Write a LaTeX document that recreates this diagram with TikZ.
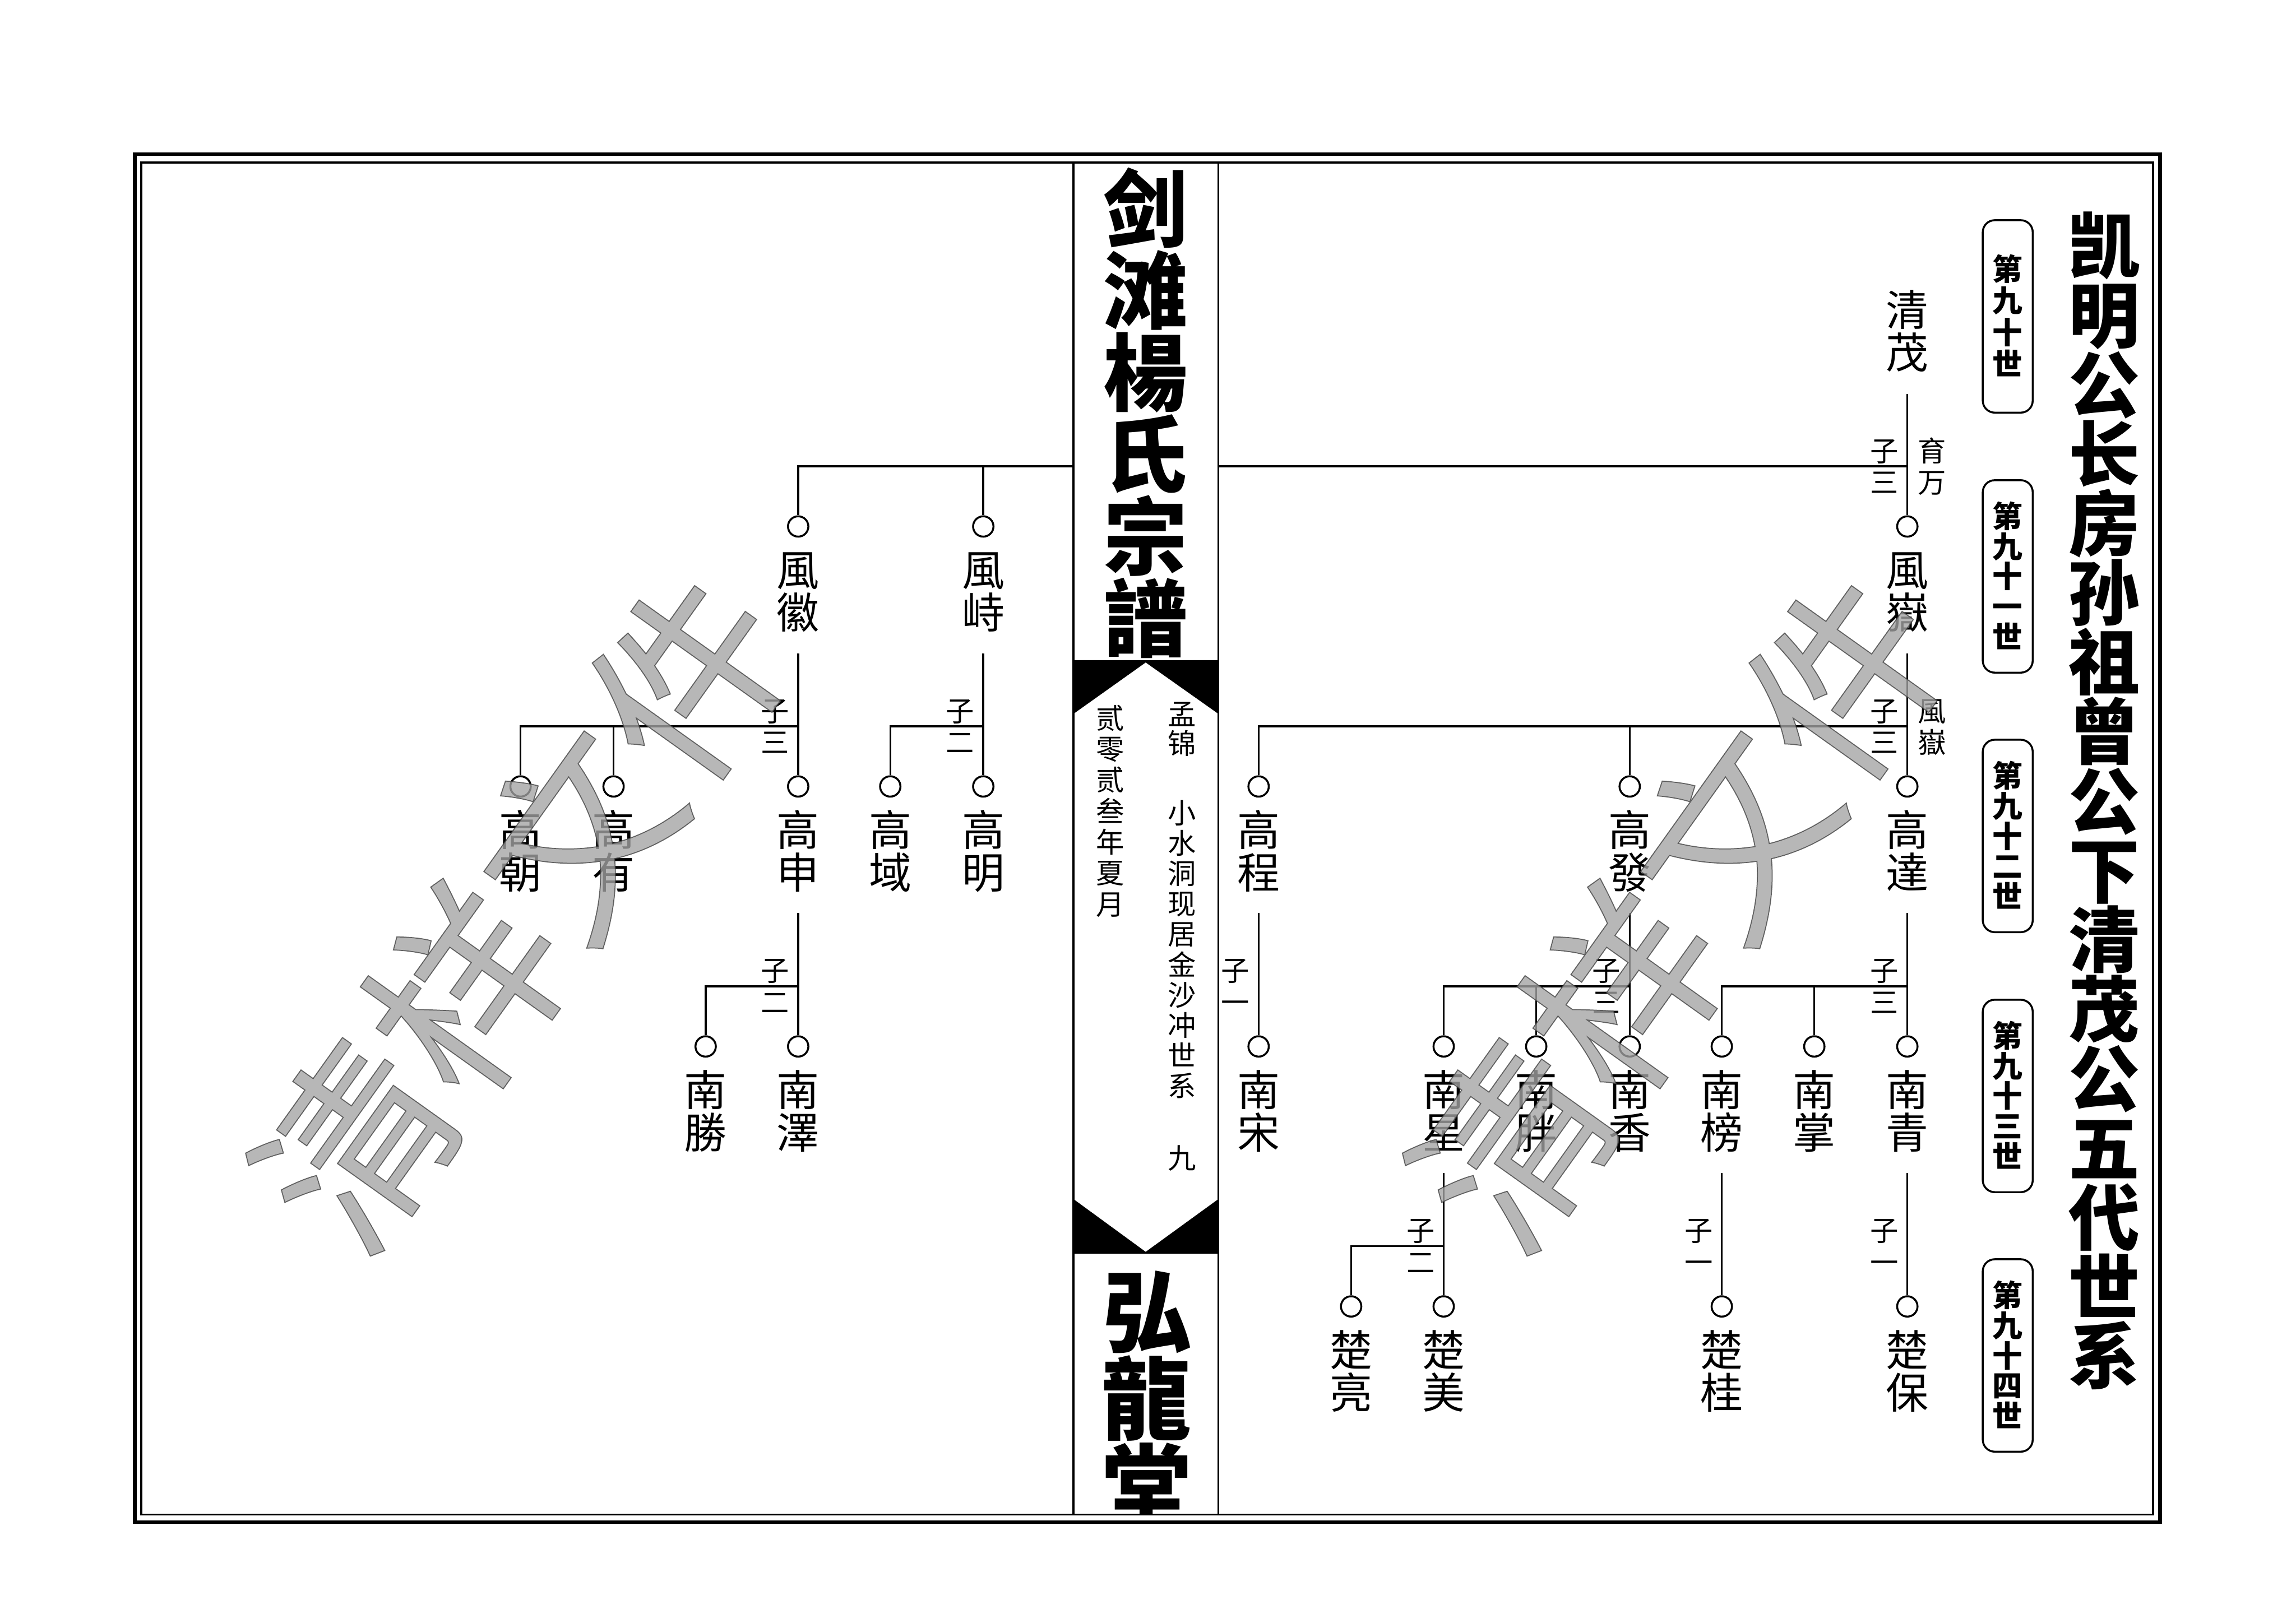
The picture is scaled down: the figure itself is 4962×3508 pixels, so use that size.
\documentclass[tikz,border=0pt]{standalone}
\usepackage{fontspec}
\setmainfont{Noto Sans CJK SC}
\makeatletter
\newdimen\vtp
\newcommand\vt[2]{\vtp=#1\relax\vbox{\offinterlineskip\@tfor\vt@c:=#2\do{\hbox{\rule[\dimexpr0.38em-0.5\vtp\relax]{0pt}{\vtp}\vt@c}}}}
\makeatother
\newcommand\wmon{\special{pdf:literal direct 0.25 0.25 0.25 RG 0.6 w 2 Tr}}
\newcommand\wmoff{\special{pdf:literal direct 0 Tr}}
\definecolor{wmgray}{gray}{0.64}
\tikzset{
  tl/.style={line width=0.4mm},
  pc/.style={circle, draw, line width=0.42mm, minimum size=4.4mm, inner sep=0pt, fill=white},
  nm/.style={inner sep=0pt, font=\fontsize{9.2mm}{9.2mm}\selectfont},
  lb/.style={inner sep=0pt, font=\fontsize{6.1mm}{6.1mm}\selectfont},
  bs/.style={inner sep=0pt, font=\fontsize{6.1mm}{6.1mm}\selectfont},
  bt/.style={inner sep=0pt, font=\bfseries\fontsize{18.2mm}{18.2mm}\selectfont},
  bt2/.style={inner sep=0pt, font=\bfseries\fontsize{19.4mm}{19.4mm}\selectfont},
  rt/.style={inner sep=0pt, font=\bfseries\fontsize{15.4mm}{15.4mm}\selectfont},
  gbox/.style={draw, line width=0.42mm, rounded corners=2.6mm, minimum width=10.8mm, minimum height=41.6mm, inner sep=0pt, font=\bfseries\fontsize{6.5mm}{6.5mm}\selectfont},
  wm/.style={inner sep=0pt, rotate=54.5, text=wmgray, opacity=0.78, font=\fontsize{41.3mm}{41.3mm}\selectfont},
}
\newcommand\person[4]{\node[pc] (#1c) at (#2,#3+130) {}; \node[nm] (#1) at (#2,#3+270) {\vt{9.2mm}{#4}};}
\newcommand\lab[4]{\node[lb] (#1) at (#2,#3) {\vt{6.8mm}{#4}};}
\begin{document}
\begin{tikzpicture}[x=0.1mm, y=-0.1mm]
\fill[white] (0,0) rectangle (4962,3508);
\path[use as bounding box] (0,0) rectangle (4962,3508);
% frames
\draw[line width=0.8mm] (291,333) rectangle (4668,3290);
\draw[line width=0.45mm] (305,351) rectangle (4653,3274);
% central band
\coordinate (bL) at (2320,0);
\coordinate (bR) at (2633,0);
\draw[line width=0.4mm] (2320,351) -- (2320,3274);
\draw[line width=0.4mm] (2633,351) -- (2633,3274);
\fill (2320,1427) -- (2633,1427) -- (2633,1543) -- (2476,1432) -- (2320,1543) -- cycle;
\fill (2320,2592) -- (2476,2706) -- (2633,2592) -- (2633,2710) -- (2320,2710) -- cycle;
\node[bt] (btitle) at (2476,894) {\vt{17.7mm}{剑滩楊氏宗譜}};
\node[bs] (mj) at (2554,1575) {\vt{6.3mm}{孟锦}};
\node[bs] (xs) at (2554,2052) {\vt{6.55mm}{小水洞现居金沙冲世系}};
\node[bs] (jiu) at (2554,2503) {\vt{6.5mm}{九}};
\node[bs] (date) at (2400,1753) {\vt{6.7mm}{贰零贰叁年夏月}};
\begin{scope}
\clip (2322,2712) rectangle (2631,3272);
\node[bt2] (hlt) at (2478,3023) {\vt{18.8mm}{弘龍堂}};
\end{scope}
% right title and generation boxes
\node[rt] (title) at (4548,1731) {\vt{15mm}{凯明公长房孙祖曾公下清茂公五代世系}};
\node[gbox] (b90) at (4339,684) {\vt{6.8mm}{第九十世}};
\node[gbox] (b91) at (4339,1246) {\vt{6.5mm}{第九十一世}};
\node[gbox] (b92) at (4339,1807) {\vt{6.5mm}{第九十二世}};
\node[gbox] (b93) at (4339,2369) {\vt{6.5mm}{第九十三世}};
\node[gbox] (b94) at (4339,2930) {\vt{6.5mm}{第九十四世}};
% G91
\node[nm] (qm) at (4122,716) {\vt{9.2mm}{清茂}};
\coordinate (J1) at (4122,1008);
\person{fy}{4122}{1008}{風嶽}
\person{fh}{1725}{1008}{風徽}
\person{fs}{2125}{1008}{風峙}
\draw[tl] ([yshift=-13.6mm]qm.center) -- (fyc.north);
\draw[tl] (J1) -- (J1 -| bR);
\draw[tl] (J1 -| bL) -| (fhc.north);
\draw[tl] (fsc.north) -- (fsc.north |- J1);
\lab{l1}{4072}{1008}{子三}
\lab{l1b}{4175}{1008}{育万}
% G92 right
\coordinate (J2) at (4122,1570);
\person{gc}{2720}{1570}{高程}
\person{gf}{3522}{1570}{高發}
\person{gd}{4122}{1570}{高達}
\draw[tl] ([yshift=-27.4mm]fyc.center) -- (gdc.north);
\draw[tl] (J2) -| (gcc.north);
\draw[tl] (gfc.north) -- (gfc.north |- J2);
\lab{l2}{4072}{1570}{子三}
\lab{l2b}{4175}{1570}{風嶽}
% G92 left
\coordinate (J3) at (1725,1570);
\person{gz}{1125}{1570}{高朝}
\person{gy}{1326}{1570}{高有}
\person{gs}{1725}{1570}{高申}
\draw[tl] ([yshift=-27.4mm]fhc.center) -- (gsc.north);
\draw[tl] (J3) -| (gzc.north);
\draw[tl] (gyc.north) -- (gyc.north |- J3);
\lab{l3}{1675}{1570}{子三}
\coordinate (J4) at (2125,1570);
\person{gyu}{1924}{1570}{高域}
\person{gm}{2125}{1570}{高明}
\draw[tl] ([yshift=-27.4mm]fsc.center) -- (gmc.north);
\draw[tl] (J4) -| (gyuc.north);
\lab{l4}{2075}{1570}{子二}
% G93
\person{ns}{2720}{2132}{南宋}
\draw[tl] ([yshift=-27.4mm]gcc.center) -- (nsc.north);
\lab{l5}{2670}{2132}{子一}
\coordinate (J6) at (3522,2132);
\person{nx}{3120}{2132}{南星}
\person{np}{3320}{2132}{南胖}
\person{nxi}{3522}{2132}{南香}
\draw[tl] ([yshift=-27.4mm]gfc.center) -- (nxic.north);
\draw[tl] (J6) -| (nxc.north);
\draw[tl] (npc.north) -- (npc.north |- J6);
\lab{l6}{3472}{2132}{子三}
\coordinate (J7) at (4122,2132);
\person{nb}{3721}{2132}{南榜}
\person{nz}{3921}{2132}{南掌}
\person{nq}{4122}{2132}{南青}
\draw[tl] ([yshift=-27.4mm]gdc.center) -- (nqc.north);
\draw[tl] (J7) -| (nbc.north);
\draw[tl] (nzc.north) -- (nzc.north |- J7);
\lab{l7}{4072}{2132}{子三}
\coordinate (J8) at (1725,2132);
\person{nsh}{1525}{2132}{南勝}
\person{nze}{1725}{2132}{南澤}
\draw[tl] ([yshift=-27.4mm]gsc.center) -- (nzec.north);
\draw[tl] (J8) -| (nshc.north);
\lab{l8}{1675}{2132}{子二}
% G94
\coordinate (J9) at (3120,2694);
\person{cl}{2920}{2694}{楚亮}
\person{cm}{3120}{2694}{楚美}
\draw[tl] ([yshift=-27.4mm]nxc.center) -- (cmc.north);
\draw[tl] (J9) -| (clc.north);
\lab{l9}{3070}{2694}{子二}
\person{cg}{3721}{2694}{楚桂}
\draw[tl] ([yshift=-27.4mm]nbc.center) -- (cgc.north);
\lab{l10}{3671}{2694}{子一}
\person{cb}{4122}{2694}{楚保}
\draw[tl] ([yshift=-27.4mm]nqc.center) -- (cbc.north);
\lab{l11}{4072}{2694}{子一}
% watermarks
\node[wm] (wm1) at (1128,1968) {\wmon 清样文件\wmoff};
\node[wm] (wm2) at (3628,1968) {\wmon 清样文件\wmoff};
\end{tikzpicture}
\end{document}
